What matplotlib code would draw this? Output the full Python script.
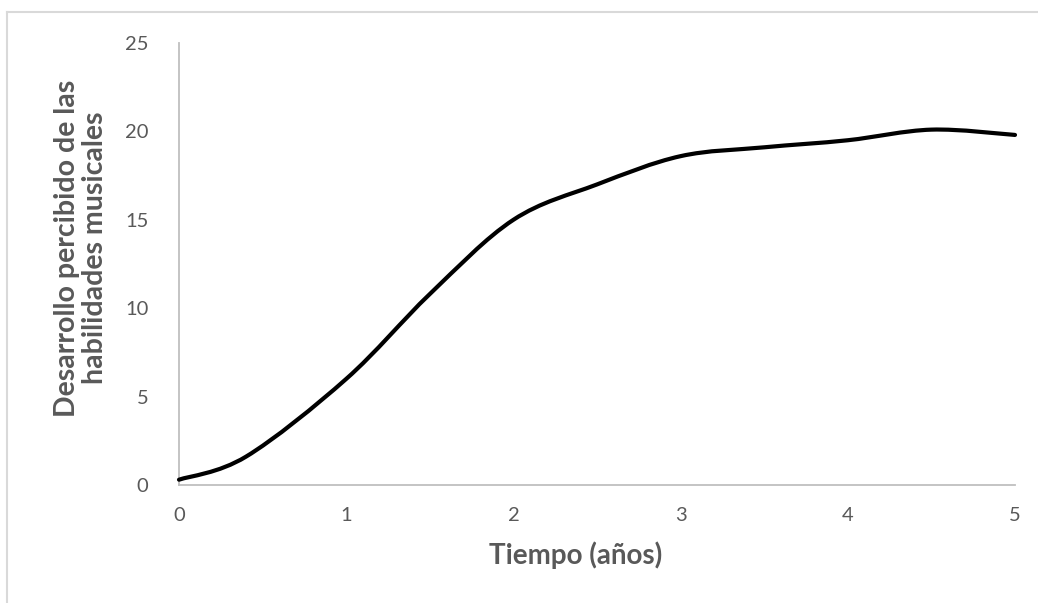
import matplotlib.pyplot as plt
import numpy as np
from matplotlib.path import Path
from matplotlib.patches import PathPatch
from matplotlib.lines import Line2D

# Values
tiempo = [0, 0.4, 1, 1.5, 2, 2.5, 3, 3.5, 4, 4.5, 5]
desarrollo = [0.3, 1.6, 6.0, 10.8, 15.0, 17.0, 18.6, 19.1, 19.5, 20.1, 19.8]

x_ticks = [0, 1, 2, 3, 4, 5]
y_ticks = [0, 5, 10, 15, 20, 25]

text_color = '#595959'
axis_color = '#bfbfbf'
frame_color = '#d9d9d9'
font = 'Lato'


def smooth_path(xs, ys):
    # Excel-style smoothed line: cubic Bezier segments with Catmull-Rom tangents
    pts = np.column_stack([xs, ys]).astype(float)
    n = len(pts)
    verts = [pts[0]]
    codes = [Path.MOVETO]
    for i in range(n - 1):
        p0 = pts[max(i - 1, 0)]
        p1 = pts[i]
        p2 = pts[i + 1]
        p3 = pts[min(i + 2, n - 1)]
        c1 = p1 + (p2 - p0) / 6.0
        c2 = p2 - (p3 - p1) / 6.0
        verts += [c1, c2, p2]
        codes += [Path.CURVE4] * 3
    return Path(verts, codes)


fig = plt.figure(figsize=(10.38, 6.03), dpi=100)
fig.patch.set_facecolor('white')
ax = fig.add_axes([179 / 1038, 118 / 603, (1015 - 179) / 1038, (485 - 43) / 603])

patch = PathPatch(smooth_path(tiempo, desarrollo), facecolor='none', edgecolor='black',
                  linewidth=3, capstyle='round', joinstyle='round', zorder=3)
patch.set_clip_on(False)
ax.add_patch(patch)

ax.set_xlim(0, 5)
ax.set_ylim(0, 25)
ax.set_xticks(x_ticks)
ax.set_yticks(y_ticks)
ax.tick_params(length=0, labelsize=14.5, labelcolor=text_color)
ax.tick_params(axis='x', pad=16)
ax.tick_params(axis='y', pad=22)
for lab in ax.get_xticklabels() + ax.get_yticklabels():
    lab.set_fontfamily(font)

for side in ['top', 'right']:
    ax.spines[side].set_visible(False)
for side in ['left', 'bottom']:
    ax.spines[side].set_color(axis_color)
    ax.spines[side].set_linewidth(1.3)

fig.text(576 / 1038, 1 - 555 / 603, 'Tiempo (años)', ha='center', va='center',
         fontsize=20, fontweight='bold', color=text_color, family=font)
fig.text(81 / 1038, 1 - 248 / 603, 'Desarrollo percibido de las\nhabilidades musicales',
         ha='center', va='center', rotation=90, multialignment='center',
         fontsize=20.5, fontweight='bold', color=text_color, family=font, linespacing=1.05)

# light chart border (top and left edges visible in the reference)
fig.add_artist(Line2D([7 / 1038, 7 / 1038], [0, 1 - 12 / 603], transform=fig.transFigure,
                      color=frame_color, linewidth=1.5))
fig.add_artist(Line2D([7 / 1038, 1], [1 - 12 / 603, 1 - 12 / 603], transform=fig.transFigure,
                      color=frame_color, linewidth=1.5))

fig.savefig('out.png', dpi=100)
